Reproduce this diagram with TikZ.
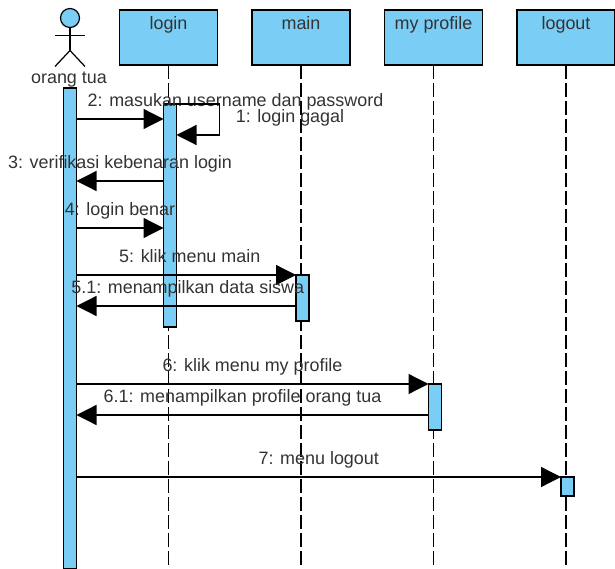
\documentclass[tikz,border=0pt]{standalone}
\usepackage{fontspec}
\setmainfont{Liberation Sans}
\usetikzlibrary{positioning}
\usetikzlibrary{arrows.meta}
\definecolor{barblue}{RGB}{122,206,245}
\tikzstyle{every node} = [font=\fontsize{10.2}{11}\selectfont, text=black!80]
\tikzstyle{head} = [draw, rectangle, fill=barblue, inner sep=0pt, outer sep=0pt, minimum width=1.96cm, minimum height=1.1cm, text height=0.4cm, text depth=0.7cm]
\tikzstyle{bar} = [draw, rectangle, fill=barblue, inner sep=0pt, outer sep=0pt, minimum width=0.26cm]
\tikzstyle{actor} = [draw, circle, fill=barblue, inner sep=0pt, outer sep=0pt, minimum size=0.38cm]
\tikzstyle{lifeline} = [dash pattern=on 0.28cm off 0.08cm]
\tikzstyle{msg} = [->, >={Triangle[length=0.4cm,width=0.4cm]}]
\tikzstyle{msglabel} = [anchor=base, inner sep=0pt, yshift=0.25cm]

\begin{document}
\begin{tikzpicture}[auto,node distance=2.65cm,line width=0.7pt]
    \useasboundingbox (0,0) rectangle (12.3,-11.38);
    \node [actor] (actor) at (1.4,-0.36) {};
    \node [head] (login) at (3.37,-0.75) {login};
    \node [head, right of=login] (main) {main};
    \node [head, right of=main] (profile) {my profile};
    \node [head, right of=profile] (logout) {logout};

    \coordinate [below=0.46cm of actor.south] (hip);
    \coordinate [below=0.16cm of actor.south] (shoulder);
    \coordinate [left=0.3cm of shoulder] (arml);
    \coordinate [right=0.3cm of shoulder] (armr);
    \coordinate [below left=0.32cm and 0.3cm of hip] (legl);
    \coordinate [below right=0.32cm and 0.3cm of hip] (legr);
    \draw (actor) -- (hip);
    \draw (arml) -- (armr);
    \draw (legl) -- (hip) -- (legr);
    \node [below=0.88cm of actor.south, inner sep=0pt, xshift=-0.02cm] (actorname) {orang tua};

    \node [bar, below=1.21cm of actor.south, minimum height=9.62cm] (actorbar) {};

    \draw [lifeline] (login) -- (login |- actorbar.south); % lifelines
    \draw [lifeline] (main) -- (main |- actorbar.south);
    \draw [lifeline] (profile) -- (profile |- actorbar.south);
    \draw [lifeline] (logout) -- (logout |- actorbar.south);

    \node [bar, below=0.78cm of login.south, xshift=0.03cm, minimum height=4.46cm] (loginbar) {};
    \node [bar, below=4.2cm of main.south, xshift=0.03cm, minimum height=0.92cm] (mainbar) {};
    \node [bar, below=6.38cm of profile.south, xshift=0.03cm, minimum height=0.92cm] (profilebar) {};
    \node [bar, below=8.24cm of logout.south, xshift=0.03cm, minimum height=0.38cm] (logoutbar) {};

    \coordinate [below=0.62cm of actorbar.north] (m2);
    \coordinate [below=1.86cm of actorbar.north] (m3);
    \coordinate [below=2.8cm of actorbar.north] (m4);
    \coordinate [below=4.36cm of actorbar.north] (m51);
    \coordinate [below=6.54cm of actorbar.north] (m61);
    \coordinate [below right=0.62cm and 0.86cm of loginbar.north east] (m1);

    \draw [msg] (actorbar.east |- m2) -- node [msglabel, xshift=2.31cm] (l2) {2: masukan username dan password} (loginbar.west |- m2);
    \draw [msg] (loginbar.north east) -| (m1) -- node [msglabel, xshift=1.84cm] (l1) {1: login gagal} (loginbar.east |- m1);
    \draw [msg] (loginbar.west |- m3) -- node [msglabel] (l3) {3: verifikasi kebenaran login} (actorbar.east |- m3);
    \draw [msg] (actorbar.east |- m4) -- node [msglabel] (l4) {4: login benar} (loginbar.west |- m4);
    \draw [msg] (actorbar.east |- mainbar.north) -- node [msglabel, xshift=0.07cm] (l5) {5: klik menu main} (mainbar.north west);
    \draw [msg] (mainbar.west |- m51) -- node [msglabel, xshift=0.03cm] (l51) {5.1: menampilkan data siswa} (actorbar.east |- m51);
    \draw [msg] (actorbar.east |- profilebar.north) -- node [msglabel] (l6) {6: klik menu my profile} (profilebar.north west);
    \draw [msg] (profilebar.west |- m61) -- node [msglabel, xshift=-0.2cm] (l61) {6.1: menampilkan profile orang tua} (actorbar.east |- m61);
    \draw [msg] (actorbar.east |- logoutbar.north) -- node [msglabel] (l7) {7: menu logout} (logoutbar.north west);
\end{tikzpicture}
\end{document}
